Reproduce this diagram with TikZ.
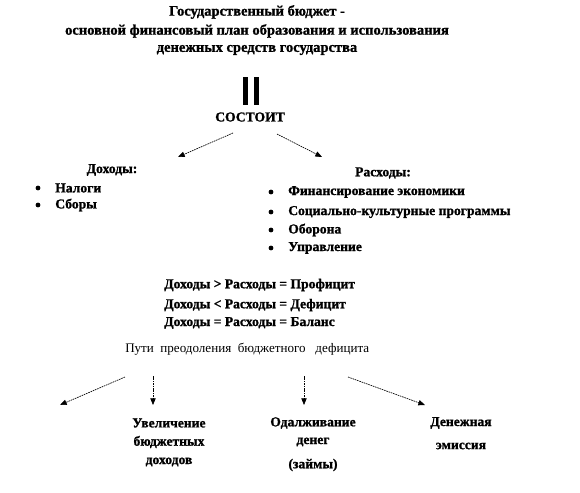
\documentclass[tikz,border=0pt]{standalone}
\usepackage{fontspec}
\setmainfont{Liberation Serif}[BoldFeatures={FakeBold=1.2}]
\usetikzlibrary{arrows.meta}
\begin{document}
\begin{tikzpicture}[x=0.75pt,y=-0.75pt,
  txt/.style={font=\bfseries\fontsize{10.2pt}{12pt}\selectfont, inner sep=0pt},
  ttl/.style={font=\bfseries\fontsize{10.9pt}{13pt}\selectfont, inner sep=0pt},
  ntxt/.style={font=\fontsize{9.8pt}{12pt}\selectfont, inner sep=0pt},
  li/.style={txt, anchor=west},
  arr/.style={line width=0.5pt, dash pattern=on 1.2pt off 0.6pt, -{Triangle[length=5pt,width=4pt]}},
  bul/.style={fill=black, circle, inner sep=0pt, minimum size=3.6pt}]
\useasboundingbox (0,0) rectangle (580,492);
% title
\node[ttl] (t1) at (257,12) {Государственный бюджет -};
\node[ttl] (t2) at (257,31) {основной финансовый план образования и использования};
\node[ttl] (t3) at (257,50) {денежных средств государства};
% double bar
\fill (243,77) rectangle (248,105);
\fill (254,77) rectangle (259,105);
\node[txt] (sost) at (250,117) {СОСТОИТ};
\coordinate (sl) at (233,133);
\coordinate (sr) at (277,134);
\coordinate (el) at (178,157);
\coordinate (er) at (322,157);
\draw[arr] (sl) -- (el);
\draw[arr] (sr) -- (er);
% incomes
\node[txt] (doh) at (112,170) {Доходы:};
\node[bul] (b1) at (38,188) {};
\node[li] (n1) at (55,188) {Налоги};
\node[bul] (b2) at (38,205) {};
\node[li] (n2) at (55,205) {Сборы};
% expenses
\node[txt] (ras) at (383,173) {Расходы:};
\node[bul] (c1) at (271,192) {};
\node[li] (r1) at (288,192) {Финансирование экономики};
\node[bul] (c2) at (271,212) {};
\node[li] (r2) at (288,212) {Социально-культурные программы};
\node[bul] (c3) at (271,230) {};
\node[li] (r3) at (288,230) {Оборона};
\node[bul] (c4) at (271,248) {};
\node[li] (r4) at (288,248) {Управление};
% relations
\node[txt, anchor=west] (e1) at (164,285) {Доходы > Расходы = Профицит};
\node[txt, anchor=west] (e2) at (164,305) {Доходы < Расходы = Дефицит};
\node[txt, anchor=west] (e3) at (164,323) {Доходы = Расходы = Баланс};
\node[ntxt, anchor=west] (ways) at (125,349) {Пути\ \ преодоления\ \ бюджетного\ \ \ дефицита};
% bottom arrows
\coordinate (a1s) at (125,377);
\coordinate (a1e) at (60,405);
\coordinate (a2s) at (153,376);
\coordinate (a2e) at (153,405);
\coordinate (a3s) at (304,376);
\coordinate (a3e) at (304,405);
\coordinate (a4s) at (348,377);
\coordinate (a4e) at (425,405);
\draw[arr] (a1s) -- (a1e);
\draw[arr] (a2s) -- (a2e);
\draw[arr] (a3s) -- (a3e);
\draw[arr] (a4s) -- (a4e);
% bottom texts
\node[txt] (u1) at (169,423) {Увеличение};
\node[txt] (u2) at (169,442) {бюджетных};
\node[txt] (u3) at (169,462) {доходов};
\node[txt] (o1) at (313,423) {Одалживание};
\node[txt] (o2) at (313,442) {денег};
\node[txt] (o3) at (313,465) {(займы)};
\node[txt] (d1) at (461,423) {Денежная};
\node[txt] (d2) at (461,446) {эмиссия};
\end{tikzpicture}
\end{document}
